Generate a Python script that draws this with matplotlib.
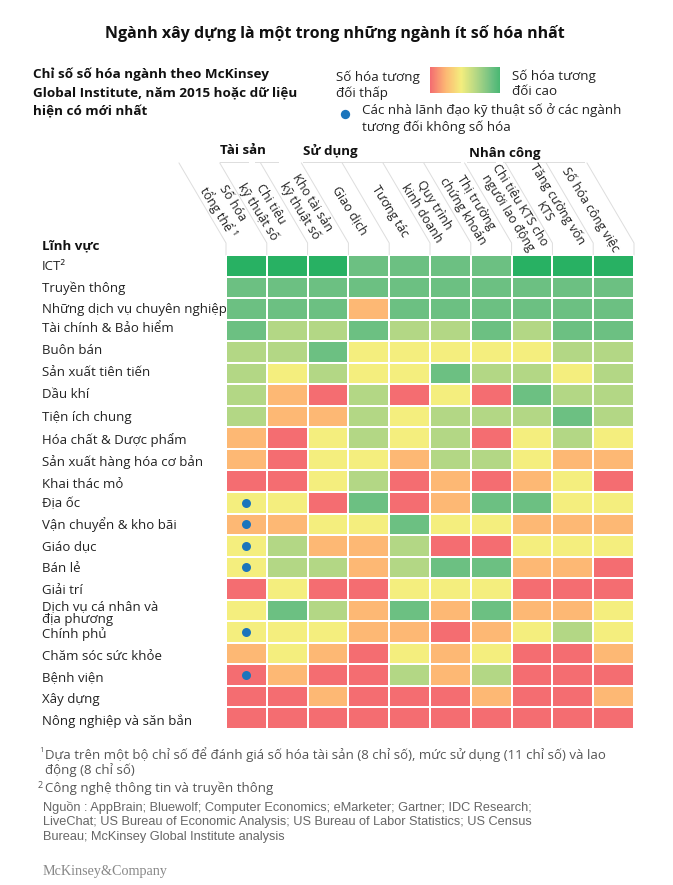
# Chi so so hoa nganh - McKinsey heatmap
import numpy as np
import matplotlib
matplotlib.use("Agg")
import matplotlib.pyplot as plt
from matplotlib.colors import ListedColormap, LinearSegmentedColormap

W, H = 673, 885
plt.rcParams["font.family"] = ["Open Sans", "DejaVu Sans"]

# ── Data ────────────────────────────────────────────────────
sectors = [
    "ICT²", "Truyền thông", "Những dịch vụ chuyên nghiệp", "Tài chính & Bảo hiểm",
    "Buôn bán", "Sản xuất tiên tiến", "Dầu khí", "Tiện ích chung",
    "Hóa chất & Dược phẩm", "Sản xuất hàng hóa cơ bản", "Khai thác mỏ", "Địa ốc",
    "Vận chuyển & kho bãi", "Giáo dục", "Bán lẻ", "Giải trí",
    "Dịch vụ cá nhân và\nđịa phương", "Chính phủ", "Chăm sóc sức khỏe", "Bệnh viện",
    "Xây dựng", "Nông nghiệp và săn bắn",
]
# the row labels in the original are not evenly spaced
sector_y = [267, 288, 309, 329, 351, 373, 395, 418, 440, 462, 485, 504,
            525, 547, 569, 590, 613, 634, 656, 678, 699, 721]

# 0 = red (low) ... 5 = dark green (high)
levels = [
    [5, 5, 5, 4, 4, 4, 4, 5, 5, 5],
    [4, 4, 4, 4, 4, 4, 4, 4, 4, 4],
    [4, 4, 4, 1, 4, 4, 4, 4, 4, 4],
    [4, 3, 3, 4, 3, 3, 4, 3, 4, 4],
    [3, 3, 4, 2, 2, 2, 2, 2, 3, 3],
    [3, 2, 3, 2, 2, 4, 3, 3, 2, 3],
    [3, 1, 0, 3, 0, 2, 0, 4, 3, 3],
    [3, 1, 1, 3, 2, 3, 3, 3, 4, 3],
    [1, 0, 2, 3, 2, 3, 0, 2, 3, 2],
    [1, 0, 2, 2, 1, 3, 3, 2, 1, 1],
    [0, 0, 2, 3, 0, 1, 0, 1, 2, 0],
    [2, 2, 0, 4, 0, 1, 4, 4, 2, 2],
    [1, 1, 2, 2, 4, 2, 2, 1, 1, 1],
    [2, 3, 1, 1, 3, 0, 0, 2, 2, 2],
    [2, 3, 3, 1, 3, 4, 4, 1, 1, 0],
    [0, 2, 0, 0, 2, 2, 2, 0, 0, 0],
    [2, 4, 3, 1, 4, 1, 4, 1, 1, 2],
    [2, 2, 2, 1, 1, 0, 1, 2, 3, 2],
    [1, 2, 1, 0, 2, 1, 2, 0, 0, 1],
    [0, 1, 0, 0, 3, 1, 3, 0, 0, 0],
    [0, 0, 1, 0, 0, 0, 1, 0, 0, 1],
    [0, 0, 0, 0, 0, 0, 0, 0, 0, 0],
]
laggard_rows = [11, 12, 13, 14, 17, 19]

columns = [
    "Số hóa\ntổng thể ¹", "Chi tiêu\nkỹ thuật số", "Kho tài sản\nkỹ thuật số",
    "Giao dịch", "Tương tác", "Quy trình\nkinh doanh", "Thị trường\nchứng khoán",
    "Chi tiêu KTS cho\nngười lao động", "Tăng cường vốn\nKTS", "Số hóa công việc",
]
column_centres = [(225, 208), (264, 208), (306, 207), (350, 210), (390, 211),
                  (428, 209), (469, 207), (514, 209), (551, 208), (590, 210)]

palette = ["#F46D71", "#FDB874", "#F4EE7E", "#B3D785", "#6CC082", "#28B163"]
TEXT = "#222222"
LINE = "#DDDDDD"

# ── Helpers: everything outside the heatmap is placed in pixels ─
fig = plt.figure(figsize=(W / 100, H / 100), dpi=100)
bg = fig.add_axes([0, 0, 1, 1])
bg.set_xlim(0, W)
bg.set_ylim(H, 0)
bg.axis("off")


def inset(x0, y0, x1, y1):
    return fig.add_axes([x0 / W, 1 - y1 / H, (x1 - x0) / W, (y1 - y0) / H])


def label(x, y, s, size=9.6, weight="normal", color=TEXT, ha="left", va="center", **kw):
    bg.text(x, y, s, fontsize=size, fontweight=weight, color=color, ha=ha, va=va, **kw)


# ── Titles ──────────────────────────────────────────────────
label(335, 33, "Ngành xây dựng là một trong những ngành ít số hóa nhất",
      size=11.5, weight="bold", color="#111111", ha="center")
label(33, 93, "Chỉ số số hóa ngành theo McKinsey\nGlobal Institute, năm 2015 hoặc dữ liệu\nhiện có mới nhất",
      size=9.7, weight="bold", color="#111111", linespacing=1.58)

# ── Legend ──────────────────────────────────────────────────
label(336, 85, "Số hóa tương\nđối thấp", linespacing=1.2)
label(512, 84, "Số hóa tương\nđối cao", linespacing=1.2)
label(362, 118.5, "Các nhà lãnh đạo kỹ thuật số ở các ngành\ntương đối không số hóa", size=9.6, linespacing=1.3)
bg.scatter([345], [114], s=45, color="#1B75BC", linewidths=0)

bar = inset(430, 67, 500, 93)
gradient = LinearSegmentedColormap.from_list("grad", palette)
bar.imshow(np.linspace(0, 0.9, 256).reshape(1, -1), aspect="auto", cmap=gradient, vmin=0, vmax=1)
bar.axis("off")

# ── Column headers ──────────────────────────────────────────
label(220, 151, "Tài sản", weight="bold", color="#111111")
label(303, 151, "Sử dụng", weight="bold", color="#111111")
label(469, 153, "Nhân công", weight="bold", color="#111111")

col_w = (634 - 226) / 10
for k in range(11):
    x = 226 + k * col_w
    bg.plot([x, x, x - 47], [255, 243, 163], color=LINE, lw=0.7, zorder=1)

for x0, x1 in [(220, 248), (255, 278), (303, 420), (420, 460), (467, 495), (503, 584)]:
    bg.plot([x0, x1], [161.5, 161.5], color=LINE, lw=0.7, zorder=1)

for name, (cx, cy) in zip(columns, column_centres):
    label(cx, cy, name, size=9.0, ha="center", rotation=-58, rotation_mode="anchor",
          linespacing=1.2, zorder=3)

label(42, 246, "Lĩnh vực", weight="bold", color="#111111")

# ── Heatmap ─────────────────────────────────────────────────
ax = inset(226, 255.5, 634, 728.5)
values = np.array(levels)
ax.pcolormesh(values, cmap=ListedColormap(palette), vmin=-0.5, vmax=5.5,
              edgecolors="white", linewidth=1.1)
ax.scatter([0.5] * len(laggard_rows), [r + 0.5 for r in laggard_rows],
           s=42, color="#1B75BC", linewidths=0, zorder=3)
ax.set_xlim(0, values.shape[1])
ax.set_ylim(values.shape[0], 0)
ax.axis("off")

for name, y in zip(sectors, sector_y):
    label(42, y, name, size=9.55, linespacing=0.95)

# ── Footnotes ───────────────────────────────────────────────
FOOT = "#555555"
label(39, 751, "1", size=5.5, color=FOOT)
label(45, 755, "Dựa trên một bộ chỉ số để đánh giá số hóa tài sản (8 chỉ số), mức sử dụng (11 chỉ số) và lao",
      size=9.55, color=FOOT)
label(45, 770, "động (8 chỉ số)", size=9.55, color=FOOT)
label(38, 785, "2", size=6.5, color=FOOT)
label(45, 788, "Công nghệ thông tin và truyền thông", size=9.55, color=FOOT)

label(43, 822, "Nguồn : AppBrain; Bluewolf; Computer Economics; eMarketer; Gartner; IDC Research;\n"
               "LiveChat; US Bureau of Economic Analysis; US Bureau of Labor Statistics; US Census\n"
               "Bureau; McKinsey Global Institute analysis",
      size=9.2, color="#666666", family="Liberation Sans", linespacing=1.28)
label(43, 872, "McKinsey&Company", size=10.2, color="#888888", family="Liberation Serif")

fig.savefig("out.png", dpi=100)
